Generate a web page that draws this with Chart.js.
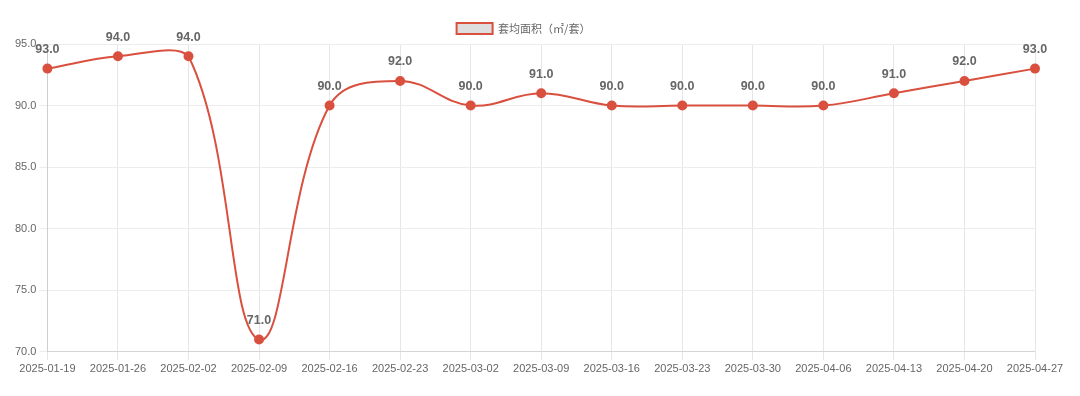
<!DOCTYPE html>
<html><head><meta charset="utf-8">
<script src="https://cdn.jsdelivr.net/npm/chart.js@4"></script>
<style>html,body{margin:0;padding:0;background:#fff}#wrap{width:1080px;height:396px}</style>
</head><body><div id="wrap"><canvas id="c"></canvas></div>
<script>
const categories = ["2025-01-19","2025-01-26","2025-02-02","2025-02-09","2025-02-16","2025-02-23","2025-03-02","2025-03-09","2025-03-16","2025-03-23","2025-03-30","2025-04-06","2025-04-13","2025-04-20","2025-04-27"];
const areaValues = [93,94,94,71,90,92,90,91,90,90,90,90,91,92,93];
const seriesName = "套均面积（㎡/套）";
const yTicks = [70,75,80,85,90,95];

const labelPlugin = {
  id: 'valLabels',
  afterDatasetsDraw(chart) {
    const ctx = chart.ctx;
    const meta = chart.getDatasetMeta(0);
    ctx.save();
    ctx.font = 'bold 12.5px "Liberation Sans", Arial, sans-serif';
    ctx.fillStyle = '#666';
    ctx.textAlign = 'center';
    ctx.textBaseline = 'middle';
    meta.data.forEach((pt, i) => {
      ctx.fillText(chart.data.datasets[0].data[i].toFixed(1), pt.x, pt.y - 19);
    });
    ctx.restore();
  }
};

new Chart(document.getElementById('c'), {
  type: 'line',
  data: {
    labels: categories,
    datasets: [{
      label: seriesName,
      data: areaValues,
      borderColor: '#d9503f',
      backgroundColor: 'rgba(220,220,220,0.9)',
      pointBackgroundColor: '#d9503f',
      pointBorderColor: '#d9503f',
      pointRadius: 4,
      borderWidth: 2,
      tension: 0.4,
      fill: false,
      clip: false
    }]
  },
  options: {
    responsive: true,
    maintainAspectRatio: false,
    animation: false,
    layout: { padding: { left: 12, right: 45, top: 13, bottom: 17 } },
    plugins: {
      legend: {
        position: 'top',
        labels: {
          boxWidth: 36, boxHeight: 11,
          color: '#666',
          font: { size: 11, family: '"Noto Sans CJK SC", sans-serif' },
          generateLabels(chart) {
            return [{ text: seriesName, fillStyle: 'rgba(222,222,222,1)', strokeStyle: '#d9503f', lineWidth: 2, fontColor: '#666', datasetIndex: 0 }];
          }
        }
      },
      tooltip: { enabled: false }
    },
    scales: {
      x: {
        grid: { color: '#e6e6e6' },
        ticks: { color: '#666', font: { size: 11, family: '"Liberation Sans", Arial, sans-serif' }, maxRotation: 0, autoSkip: false }
      },
      y: {
        min: 70, max: 95,
        afterBuildTicks(axis) { axis.ticks = yTicks.map(v => ({ value: v })); },
        grid: { color: '#ececec' },
        ticks: { color: '#666', font: { size: 11, family: '"Liberation Sans", Arial, sans-serif' }, callback: v => Number(v).toFixed(1) }
      }
    }
  },
  plugins: [labelPlugin]
});
</script></body></html>
